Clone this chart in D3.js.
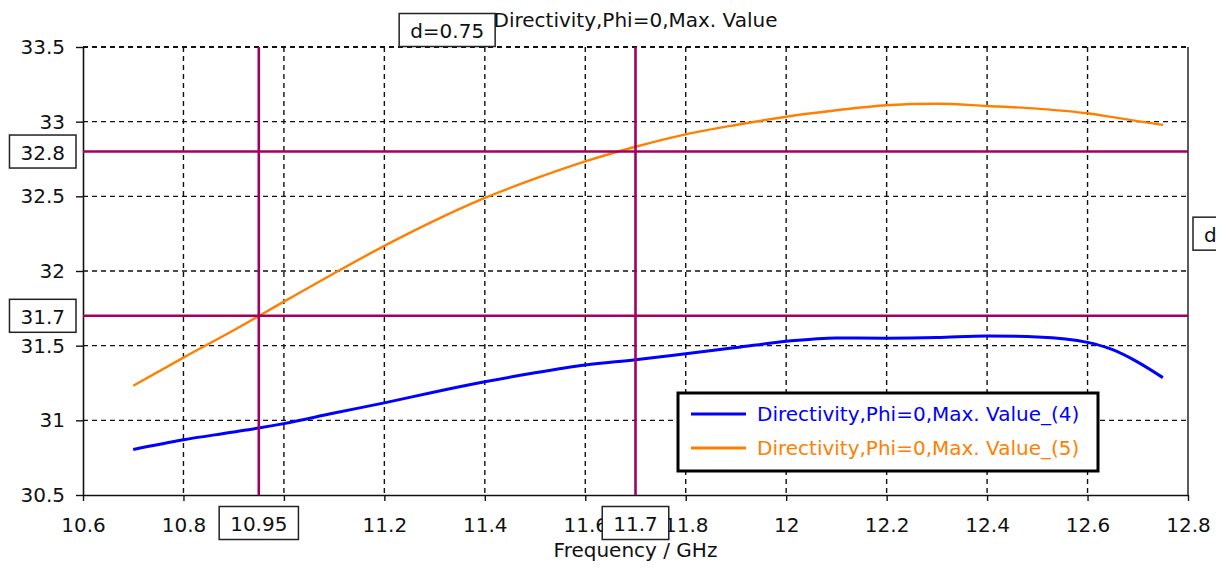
<!DOCTYPE html>
<html>
<head>
<meta charset="utf-8">
<script src="https://cdn.jsdelivr.net/npm/d3@7"></script>
<style>
  body { margin: 0; background: #fff; }
  svg text { font-family: "DejaVu Sans", Verdana, sans-serif; font-size: 20px; fill: #111; }
</style>
</head>
<body>
<svg id="chart" width="1229" height="571"></svg>
<script>
// Werte
const freq = [10.7, 10.8, 10.9, 11.0, 11.1, 11.2, 11.3, 11.4, 11.5, 11.6, 11.7, 11.8,
              11.9, 12.0, 12.1, 12.2, 12.3, 12.4, 12.5, 12.6, 12.65, 12.7, 12.75];
const dir4 = [30.805, 30.870, 30.922, 30.978, 31.049, 31.117, 31.190, 31.258, 31.318, 31.370, 31.406, 31.446,
              31.487, 31.529, 31.552, 31.550, 31.554, 31.565, 31.558, 31.522, 31.473, 31.390, 31.286];
const dir5 = [31.232, 31.420, 31.603, 31.795, 31.985, 32.168, 32.337, 32.489, 32.618, 32.734, 32.832, 32.915,
              32.978, 33.033, 33.076, 33.110, 33.120, 33.105, 33.087, 33.056, 33.030, 33.004, 32.978];
const seriesNames = ["Directivity,Phi=0,Max. Value_(4)", "Directivity,Phi=0,Max. Value_(5)"];
const seriesColors = ["#0000ff", "#ff8000"];
const xTicks = [10.6, 10.8, 11, 11.2, 11.4, 11.6, 11.8, 12, 12.2, 12.4, 12.6, 12.8];
const yTicks = [30.5, 31, 31.5, 32, 32.5, 33, 33.5];
const xMarkers = [10.95, 11.7];
const yMarkers = [31.7, 32.8];
const xMarkerLabels = ["10.95", "11.7"];
const yMarkerLabels = ["31.7", "32.8"];
const xDeltaLabel = "d=0.75";
const yDeltaLabel = "d=1.1";
const title = "Directivity,Phi=0,Max. Value";
const xTitle = "Frequency / GHz";

const svg = d3.select("#chart");
const pLeft = 83, pRight = 1188, pTop = 47, pBottom = 495;
const markerColor = "#a0005f";

const x = d3.scaleLinear().domain([10.6, 12.8]).range([pLeft, pRight]);
const y = d3.scaleLinear().domain([30.5, 33.5]).range([pBottom, pTop]);

const defs = svg.append("defs");
defs.append("clipPath").attr("id", "clip")
  .append("rect").attr("x", pLeft).attr("y", pTop).attr("width", pRight - pLeft).attr("height", pBottom - pTop);
// rechter Rand wie im Original abgeschnitten
defs.append("clipPath").attr("id", "edge")
  .append("rect").attr("x", 0).attr("y", 0).attr("width", 1216).attr("height", 571);

// Gitter
const grid = svg.append("g");
grid.selectAll("line.gx").data(xTicks.slice(1, -1)).enter().append("line")
  .attr("x1", d => x(d)).attr("x2", d => x(d)).attr("y1", pTop).attr("y2", pBottom)
  .attr("stroke", "#111").attr("stroke-width", 1.4).attr("stroke-dasharray", "5,4");
grid.selectAll("line.gy").data(yTicks.slice(1)).enter().append("line")
  .attr("x1", pLeft).attr("x2", pRight).attr("y1", d => y(d)).attr("y2", d => y(d))
  .attr("stroke", "#111").attr("stroke-width", d => d === 33.5 ? 2.2 : 1.4).attr("stroke-dasharray", "5,4");

// Achsen
const xAxis = svg.append("g").attr("transform", `translate(0,${pBottom})`)
  .call(d3.axisBottom(x).tickValues(xTicks).tickSizeInner(6).tickSizeOuter(0).tickPadding(17)
    .tickFormat(d3.format("~g")));
const yAxis = svg.append("g").attr("transform", `translate(${pLeft},0)`)
  .call(d3.axisLeft(y).tickValues(yTicks).tickSizeInner(7).tickSizeOuter(0).tickPadding(11)
    .tickFormat(d3.format("~g")));
[xAxis, yAxis].forEach(a => {
  a.selectAll("path.domain").attr("stroke", "#111").attr("stroke-width", 1.6);
  a.selectAll(".tick line").attr("stroke", "#111").attr("stroke-width", 1.4);
  a.selectAll("text").attr("font-size", 20).attr("font-family", "DejaVu Sans").attr("fill", "#111");
});
// die Beschriftung "11" liegt ganz unter der Markerbox
xAxis.selectAll(".tick text").filter(d => d === 11).remove();
svg.append("line").attr("x1", pRight).attr("x2", pRight).attr("y1", pTop).attr("y2", pBottom)
  .attr("stroke", "#333").attr("stroke-width", 1.6);

// Kurven
const line = d3.line().curve(d3.curveMonotoneX);
const curves = svg.append("g").attr("clip-path", "url(#clip)");
[dir4, dir5].forEach((vals, i) => {
  curves.append("path")
    .attr("d", line(freq.map((f, j) => [x(f), y(vals[j])])))
    .attr("fill", "none")
    .attr("stroke", seriesColors[i])
    .attr("stroke-width", i === 0 ? 3 : 2.4);
});

// Marker
const markers = svg.append("g");
markers.selectAll("line.mx").data(xMarkers).enter().append("line")
  .attr("x1", d => x(d)).attr("x2", d => x(d)).attr("y1", pTop).attr("y2", pBottom)
  .attr("stroke", markerColor).attr("stroke-width", 2.6);
markers.selectAll("line.my").data(yMarkers).enter().append("line")
  .attr("x1", pLeft).attr("x2", pRight).attr("y1", d => y(d)).attr("y2", d => y(d))
  .attr("stroke", markerColor).attr("stroke-width", 2.6);

// Beschriftungsboxen
function labelBox(cx, cy, txt, anchor) {
  const g = svg.append("g").attr("clip-path", "url(#edge)");
  const t = g.append("text").attr("x", 0).attr("y", 0)
    .attr("dominant-baseline", "central").attr("text-anchor", "middle").text(txt);
  const w = t.node().getComputedTextLength() + 22, h = 33;
  let x0 = cx - w / 2;
  if (anchor === "end") x0 = cx - w;
  if (anchor === "start") x0 = cx;
  g.insert("rect", "text").attr("x", x0).attr("y", cy - h / 2).attr("width", w).attr("height", h)
    .attr("fill", "#fff").attr("stroke", "#222").attr("stroke-width", 1.5);
  t.attr("x", x0 + w / 2).attr("y", cy + 1);
}
xMarkers.forEach((m, i) => labelBox(x(m), 523, xMarkerLabels[i], "middle"));
yMarkers.forEach((m, i) => labelBox(76, y(m), yMarkerLabels[i], "end"));
labelBox((x(xMarkers[0]) + x(xMarkers[1])) / 2, 30, xDeltaLabel, "middle");
labelBox(pRight + 5, (y(yMarkers[0]) + y(yMarkers[1])) / 2, yDeltaLabel, "start");

// Titel
svg.append("text").attr("x", (pLeft + pRight) / 2).attr("y", 27)
  .attr("text-anchor", "middle").text(title);
svg.append("text").attr("x", (pLeft + pRight) / 2).attr("y", 557)
  .attr("text-anchor", "middle").text(xTitle);

// Legende
const legend = svg.append("g").attr("transform", "translate(678,393)");
legend.append("rect").attr("width", 420).attr("height", 78)
  .attr("fill", "#fff").attr("stroke", "#000").attr("stroke-width", 3);
seriesNames.forEach((name, i) => {
  const ly = 21 + i * 34;
  legend.append("line").attr("x1", 13).attr("x2", 68).attr("y1", ly).attr("y2", ly)
    .attr("stroke", seriesColors[i]).attr("stroke-width", 3);
  legend.append("text").attr("x", 79).attr("y", ly).attr("dominant-baseline", "central")
    .style("fill", seriesColors[i]).text(name);
});
</script>
</body>
</html>
